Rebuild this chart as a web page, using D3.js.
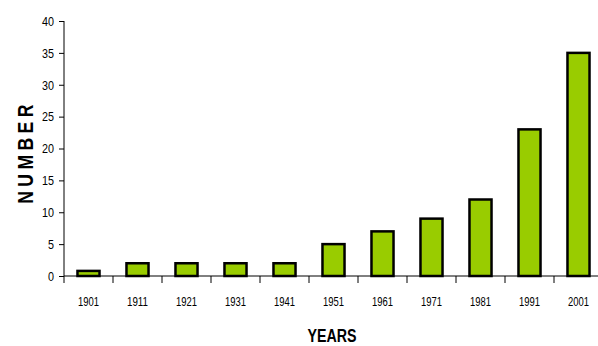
<!DOCTYPE html>
<html><head><meta charset="utf-8">
<script src="https://cdn.jsdelivr.net/npm/d3@7"></script>
<style>body{margin:0;background:#fff}svg{display:block}</style>
</head><body>
<script>
const years = ["1901","1911","1921","1931","1941","1951","1961","1971","1981","1991","2001"];
const counts = [0.8, 2, 2, 2, 2, 5, 7, 9, 12, 23, 35];
const yTicks = [0,5,10,15,20,25,30,35,40];
const xTitle = "YEARS";
const yTitle = "NUMBER";

const W = 598, H = 346;
const svg = d3.select("body").append("svg").attr("width", W).attr("height", H);
const x = d3.scaleBand().domain(years).range([64, 603]).paddingInner(0.55).paddingOuter(0.275);
const y = d3.scaleLinear().domain([0, 40]).range([276, 21]);

// bars
svg.selectAll("rect.bar").data(years).join("rect")
  .attr("class","bar")
  .attr("x", d => x(d))
  .attr("y", (d,i) => y(counts[i]))
  .attr("width", x.bandwidth())
  .attr("height", (d,i) => y(0) - y(counts[i]))
  .attr("fill", "#99cc00")
  .attr("stroke", "#000")
  .attr("stroke-width", 2.5);

// y axis
const yAxis = svg.append("g").attr("transform","translate(64,0)")
  .call(d3.axisLeft(y).tickValues(yTicks).tickSize(5).tickPadding(5));
yAxis.select(".domain").attr("d", "M0,21V283").attr("stroke","#000");
yAxis.selectAll(".tick line").attr("stroke","#000");
yAxis.selectAll(".tick text").attr("font-family","Liberation Sans, Arial, sans-serif")
  .attr("font-size", 13.5).attr("fill","#000")
  .attr("textLength", d => String(d).length * 6).attr("lengthAdjust","spacingAndGlyphs");

// x axis
const xAxis = svg.append("g").attr("transform","translate(0,276)")
  .call(d3.axisBottom(x).tickSize(0).tickPadding(20));
xAxis.select(".domain").attr("d","M64,0H603").attr("stroke","#000");
xAxis.selectAll(".tick text").attr("font-family","Liberation Sans, Arial, sans-serif")
  .attr("font-size", 13.5).attr("fill","#000")
  .attr("textLength", 21).attr("lengthAdjust","spacingAndGlyphs");
// separators between categories
const seps = years.slice(1).map(d => x(d) - x.step()*x.paddingInner()/2);
xAxis.selectAll("line.sep").data(seps).join("line").attr("class","sep")
  .attr("x1", d => d).attr("x2", d => d).attr("y1", 0).attr("y2", 7)
  .attr("stroke","#000");

// titles
svg.append("text").attr("x", 332).attr("y", 342).attr("text-anchor","middle")
  .attr("font-family","Liberation Sans, Arial, sans-serif").attr("font-weight","bold")
  .attr("font-size", 18).attr("textLength", 49).attr("lengthAdjust","spacingAndGlyphs")
  .text(xTitle);
svg.append("text").attr("transform","translate(33,152) rotate(-90) scale(0.8,1)").attr("text-anchor","middle")
  .attr("font-family","Liberation Sans, Arial, sans-serif").attr("font-weight","bold")
  .attr("font-size", 22).attr("letter-spacing", 5.5)
  .text(yTitle);
</script>
</body></html>
